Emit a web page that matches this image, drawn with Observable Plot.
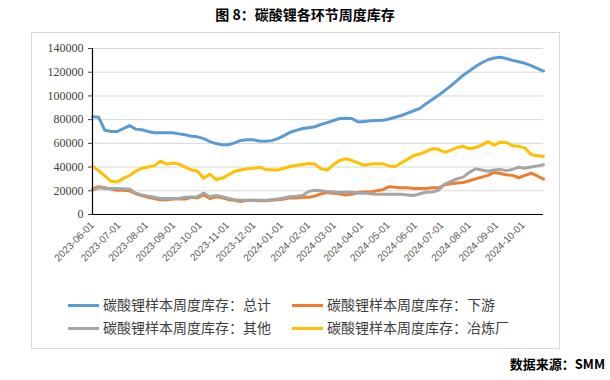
<!DOCTYPE html>
<html><head><meta charset="utf-8">
<script src="https://cdn.jsdelivr.net/npm/d3@7"></script>
<script src="https://cdn.jsdelivr.net/npm/@observablehq/plot@0.6"></script>
<style>
body{margin:0;background:#fff;width:610px;height:380px;position:relative;overflow:hidden;font-family:"Noto Sans CJK SC",sans-serif;}
#title{position:absolute;left:0;top:4px;width:610px;text-align:center;font-weight:bold;font-size:14px;color:#000;}
#box{position:absolute;left:31px;top:32px;width:527px;height:315px;border:1px solid #d9d9d9;}
#chart{position:absolute;left:0;top:0;}
.leg{position:absolute;font-size:14px;color:#404040;line-height:16px;white-space:nowrap;}
.leg i{display:inline-block;width:31px;height:3px;vertical-align:middle;margin-right:4px;position:relative;top:-1px;}
#src{position:absolute;right:5px;top:354px;font-weight:bold;font-size:13px;color:#000;}
</style></head>
<body>
<div id="title">图 8：碳酸锂各环节周度库存</div>
<div id="box"></div>
<div id="chart"></div>
<div class="leg" style="left:68px;top:296px"><i style="background:#5B9BD5"></i>碳酸锂样本周度库存：总计</div>
<div class="leg" style="left:292px;top:296px"><i style="background:#ED7D31"></i>碳酸锂样本周度库存：下游</div>
<div class="leg" style="left:68px;top:319px"><i style="background:#A5A5A5"></i>碳酸锂样本周度库存：其他</div>
<div class="leg" style="left:292px;top:319px"><i style="background:#FFC000"></i>碳酸锂样本周度库存：冶炼厂</div>
<div id="src">数据来源：SMM</div>
<script>
const dates = ["2023-06-01","2023-06-08","2023-06-15","2023-06-22","2023-06-29","2023-07-06","2023-07-13","2023-07-20","2023-07-27","2023-08-03","2023-08-10","2023-08-17","2023-08-24","2023-08-31","2023-09-07","2023-09-14","2023-09-21","2023-09-28","2023-10-05","2023-10-12","2023-10-19","2023-10-26","2023-11-02","2023-11-09","2023-11-16","2023-11-23","2023-11-30","2023-12-07","2023-12-14","2023-12-21","2023-12-28","2024-01-04","2024-01-11","2024-01-18","2024-01-25","2024-02-01","2024-02-08","2024-02-15","2024-02-22","2024-02-29","2024-03-07","2024-03-14","2024-03-21","2024-03-28","2024-04-04","2024-04-11","2024-04-18","2024-04-25","2024-05-02","2024-05-09","2024-05-16","2024-05-23","2024-05-30","2024-06-06","2024-06-13","2024-06-20","2024-06-27","2024-07-04","2024-07-11","2024-07-18","2024-07-25","2024-08-01","2024-08-08","2024-08-15","2024-08-22","2024-08-29","2024-09-05","2024-09-12","2024-09-19","2024-09-26","2024-10-03","2024-10-10","2024-10-17","2024-10-24"];
const total = [82500,82000,71000,70000,70000,72500,75000,72000,71500,70000,69000,69000,69000,69000,68000,67200,66000,65500,64000,61500,59800,58800,58800,60400,62500,63000,63000,62000,61800,62300,64000,66500,69400,71000,72500,73200,74000,76000,77500,79300,81000,81200,81000,78000,78500,79000,79200,79400,80500,82000,83500,85500,87500,89500,93500,97000,100500,104500,108500,113000,117500,121000,124800,128000,130500,132000,132600,131500,130000,128800,127500,125500,123300,121000];
const downstream = [21500,23500,22500,21500,20500,20500,20000,17500,16000,14500,13500,12500,12500,13000,13000,13000,14500,14000,16500,13500,15000,14000,12500,12000,11000,12000,12000,11500,11500,12000,12500,13000,14000,14000,14500,14500,15500,17500,18500,18000,17500,16500,17000,18500,19000,19000,20000,21000,23500,23000,22500,22500,22000,22000,22000,22500,22500,25000,26000,26500,27000,28500,30000,31500,33000,35500,34500,33500,33000,31000,33000,34800,32500,29800];
const other = [20500,22500,22000,22000,22000,21500,21500,18000,16500,15500,14500,13500,13500,13500,13500,14500,14500,15000,18000,15000,16000,15000,13500,12500,12000,12000,12000,12000,12000,12500,13000,14000,15000,15500,16000,19500,20500,20000,19500,19000,18500,18800,18800,18000,18000,17500,17000,17000,17000,17000,17000,16500,16000,17500,18800,19000,20500,25500,28000,30000,31500,35500,38500,37500,36500,37500,38000,37000,38000,39900,39000,40000,41000,42000];
const smelter = [40700,37000,32500,28000,27500,30500,32900,36500,39000,40000,41000,45000,42500,43500,42500,40000,37700,36500,30500,34000,29500,30500,33500,36500,37500,38500,39000,39900,38000,37700,37500,39000,40500,41500,42200,43000,42500,38500,37500,42000,45500,47000,45500,43500,41500,42500,42700,42700,41000,40500,43500,46500,49700,51000,53000,55500,55000,52500,54000,56500,57500,55500,56500,58500,61500,58500,61000,60700,58000,57500,56000,50500,49500,49000];
const xTickLabels = ["2023-06-01","2023-07-01","2023-08-01","2023-09-01","2023-10-01","2023-11-01","2023-12-01","2024-01-01","2024-02-01","2024-03-01","2024-04-01","2024-05-01","2024-06-01","2024-07-01","2024-08-01","2024-09-01","2024-10-01"];
const yTicks = [0,20000,40000,60000,80000,100000,120000,140000];
const seriesNames = ["总计","下游","其他","冶炼厂"];
const seriesColors = ["#5B9BD5","#ED7D31","#A5A5A5","#FFC000"];

const parse = d3.utcParse("%Y-%m-%d");
const allSeries = [total, downstream, other, smelter];
const rows = [];
allSeries.forEach((vals, s) => vals.forEach((v, i) => rows.push({date: parse(dates[i]), value: v, series: seriesNames[s]})));
const xTicks = xTickLabels.map(parse);

const chart = Plot.plot({
  width: 610, height: 300,
  marginLeft: 92, marginRight: 67, marginTop: 48, marginBottom: 86,
  x: {type: "utc", domain: [parse(dates[0]), parse(dates[dates.length-1])]},
  y: {domain: [0, 140000]},
  color: {domain: seriesNames, range: seriesColors},
  style: {background: "transparent", overflow: "visible"},
  marks: [
    Plot.gridY(yTicks.filter(d => d > 0), {stroke: "#d9d9d9", strokeOpacity: 1}),
    Plot.axisY({ticks: yTicks, tickSize: 4, tickPadding: 5, tickFormat: d => String(d), fontSize: 12, fontFamily: "Liberation Serif", color: "#404040", label: null}),
    Plot.axisX({ticks: xTicks, tickSize: 0, tickPadding: 9, tickRotate: -45, tickFormat: d3.utcFormat("%Y-%m-%d"), fontSize: 10, fontFamily: "Liberation Sans", color: "#595959", label: null}),
    ...seriesNames.map(n => Plot.line(rows.filter(r => r.series === n), {x: "date", y: "value", stroke: "series", strokeWidth: 3})),
    Plot.ruleY([0], {stroke: "#000", strokeWidth: 1.2}),
    Plot.ruleX([parse(dates[0])], {stroke: "#000", strokeWidth: 1.2})
  ]
});
document.getElementById("chart").appendChild(chart);
</script>
</body></html>
